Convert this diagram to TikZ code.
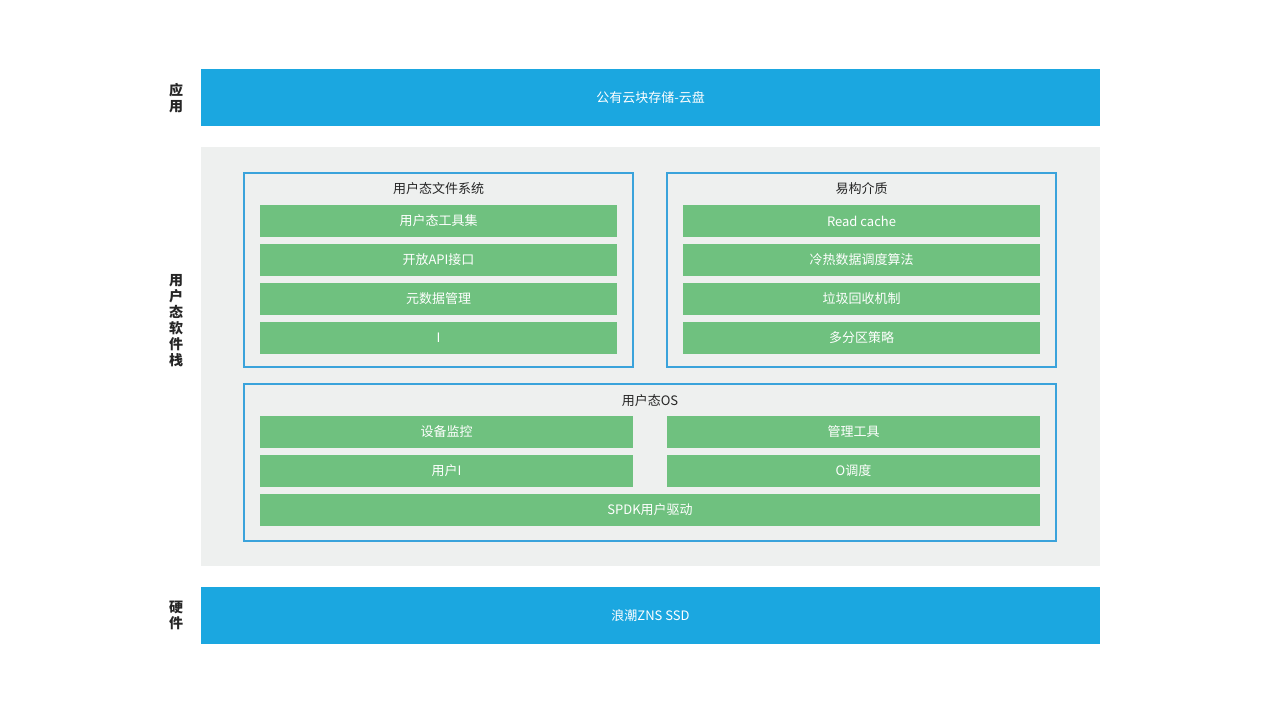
\documentclass[tikz,border=0pt]{standalone}
\usepackage{fontspec}
\setmainfont{Noto Sans CJK SC}
\definecolor{barblue}{HTML}{1BA7E0}
\definecolor{boxgreen}{HTML}{6FC17F}
\definecolor{panelgray}{HTML}{EEF0EF}
\definecolor{lineblue}{HTML}{3AA3DB}
\tikzset{
  bar/.style={fill=barblue, text=white, font=\fontsize{13}{15}\selectfont},
  item/.style={fill=boxgreen, text=white, font=\fontsize{13}{15}\selectfont},
  group/.style={draw=lineblue, line width=1.5pt, fill=panelgray},
  title/.style={font=\fontsize{13}{15}\selectfont, text=black!85},
  side/.style={font=\bfseries\fontsize{14}{16}\selectfont, text=black!85, align=center}
}
\begin{document}
\begin{tikzpicture}[x=1pt,y=-1pt]
  \useasboundingbox (0,0) rectangle (1268,714);
  \fill[white] (0,0) rectangle (1268,714);

  % layers
  \fill[barblue] (201,69) rectangle (1100,126);
  \node[bar] (app) at (650.5,97.5) {公有云块存储-云盘};
  \fill[panelgray] (201,147) rectangle (1100,566);
  \fill[barblue] (201,587) rectangle (1100,644);
  \node[bar] (hw) at (650.5,615.5) {浪潮ZNS SSD};

  \node[side] (lapp) at (176,98) {应\\用};
  \node[side] (lsw) at (176,321) {用\\户\\态\\软\\件\\栈};
  \node[side] (lhw) at (176,615) {硬\\件};

  % groups
  \draw[group] (244,173) rectangle (633,367);
  \node[title] (fs) at (438.5,189) {用户态文件系统};
  \draw[group] (667,173) rectangle (1056,367);
  \node[title] (media) at (861.5,189) {易构介质};
  \draw[group] (244,384) rectangle (1056,541);
  \node[title] (os) at (650,401) {用户态OS};

  % file system items
  \foreach \y/\t in {205/用户态工具集, 244/开放API接口, 283/元数据管理, 322/I/O调度} {
    \fill[boxgreen] (260,\y) rectangle (617,\y+32);
    \node[item, fill=none] at (438.5,\y+16) {\t};
  }
  \foreach \y/\t in {205/Read cache, 244/冷热数据调度算法, 283/垃圾回收机制, 322/多分区策略} {
    \fill[boxgreen] (683,\y) rectangle (1040,\y+32);
    \node[item, fill=none] at (861.5,\y+16) {\t};
  }

  % os items
  \foreach \y/\a/\b in {416/设备监控/管理工具, 455/用户I/O调度/用户ZoneFTL} {
    \fill[boxgreen] (260,\y) rectangle (633,\y+32);
    \node[item, fill=none] at (446.5,\y+16) {\a};
    \fill[boxgreen] (667,\y) rectangle (1040,\y+32);
    \node[item, fill=none] at (853.5,\y+16) {\b};
  }
  \fill[boxgreen] (260,494) rectangle (1040,526);
  \node[item, fill=none] (spdk) at (650,510) {SPDK用户驱动};
\end{tikzpicture}
\end{document}
